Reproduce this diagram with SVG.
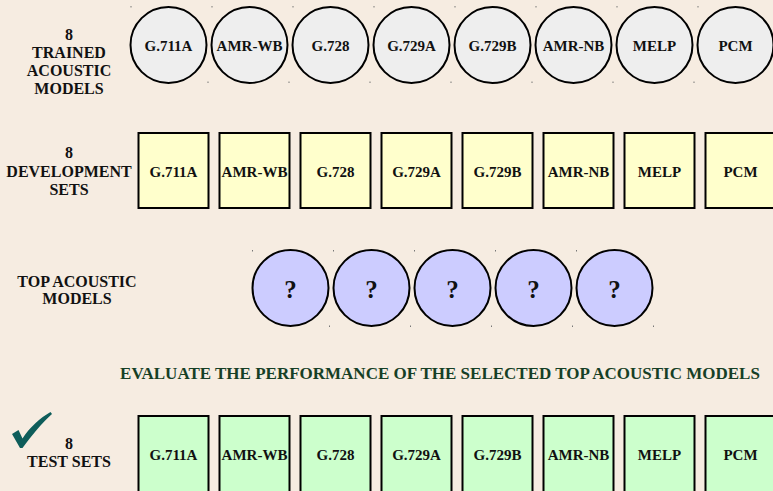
<svg xmlns="http://www.w3.org/2000/svg" width="773" height="491" viewBox="0 0 773 491">
<style>
.bg{fill:#f6ece1}
.lbl{font-family:"Liberation Serif","Times New Roman",serif;font-weight:bold;font-size:15px;fill:#111;text-anchor:middle}
.side{font-size:16px}
.q{font-family:"Liberation Serif","Times New Roman",serif;font-weight:bold;font-size:25px;fill:#111;text-anchor:middle}
.title{font-family:"Liberation Serif","Times New Roman",serif;font-weight:bold;font-size:17px;fill:#163f26;text-anchor:middle}
.model circle{fill:#eeeeee;stroke:#000;stroke-width:2}
.dev rect{fill:#ffffcc;stroke:#000;stroke-width:2}
.top circle{fill:#ccccff;stroke:#000;stroke-width:2}
.test rect{fill:#ccffcc;stroke:#000;stroke-width:2}
.dot{fill:#777}
</style>
<rect class="bg" x="0" y="0" width="773" height="491"/>

<g id="label-trained">
<text class="lbl side" x="69" y="39.5">8</text>
<text class="lbl side" x="69" y="58">TRAINED</text>
<text class="lbl side" x="69" y="76">ACOUSTIC</text>
<text class="lbl side" x="69" y="94">MODELS</text>
</g>
<g id="label-dev">
<text class="lbl side" x="69" y="158">8</text>
<text class="lbl side" x="69" y="177">DEVELOPMENT</text>
<text class="lbl side" x="69" y="195">SETS</text>
</g>
<g id="label-top">
<text class="lbl side" x="77" y="286.5">TOP ACOUSTIC</text>
<text class="lbl side" x="77" y="304">MODELS</text>
</g>
<g id="label-test">
<text class="lbl side" x="69" y="448.5">8</text>
<text class="lbl side" x="69" y="466.5">TEST SETS</text>
</g>
<g id="title">
<text class="title" x="440" y="379">EVALUATE THE PERFORMANCE OF THE SELECTED TOP ACOUSTIC MODELS</text>
</g>
<g id="checkmark">
<path d="M12 434 L18.5 430 L22.5 438.5 C30 427 40 418 50.5 412 L52 414 C42 423 32 435 22.5 448 L20 448 Z" fill="#0e5d5a"/>
</g>

<g id="model-g711a" class="model"><circle cx="168.5" cy="45" r="38"/><text class="lbl" x="168.5" y="51">G.711A</text></g>
<g id="model-amrwb" class="model"><circle cx="249.5" cy="45" r="38"/><text class="lbl" x="249.5" y="51">AMR-WB</text></g>
<g id="model-g728" class="model"><circle cx="330.5" cy="45" r="38"/><text class="lbl" x="330.5" y="51">G.728</text></g>
<g id="model-g729a" class="model"><circle cx="411.5" cy="45" r="38"/><text class="lbl" x="411.5" y="51">G.729A</text></g>
<g id="model-g729b" class="model"><circle cx="492.5" cy="45" r="38"/><text class="lbl" x="492.5" y="51">G.729B</text></g>
<g id="model-amrnb" class="model"><circle cx="573.5" cy="45" r="38"/><text class="lbl" x="573.5" y="51">AMR-NB</text></g>
<g id="model-melp" class="model"><circle cx="654.5" cy="45" r="38"/><text class="lbl" x="654.5" y="51">MELP</text></g>
<g id="model-pcm" class="model"><circle cx="735.5" cy="45" r="38"/><text class="lbl" x="735.5" y="51">PCM</text></g>

<g id="dev-g711a" class="dev"><rect x="138.5" y="133" width="70" height="75"/><text class="lbl" x="173.5" y="176.5">G.711A</text></g>
<g id="dev-amrwb" class="dev"><rect x="219.5" y="133" width="70" height="75"/><text class="lbl" x="254.5" y="176.5">AMR-WB</text></g>
<g id="dev-g728" class="dev"><rect x="300.5" y="133" width="70" height="75"/><text class="lbl" x="335.5" y="176.5">G.728</text></g>
<g id="dev-g729a" class="dev"><rect x="381.5" y="133" width="70" height="75"/><text class="lbl" x="416.5" y="176.5">G.729A</text></g>
<g id="dev-g729b" class="dev"><rect x="462.5" y="133" width="70" height="75"/><text class="lbl" x="497.5" y="176.5">G.729B</text></g>
<g id="dev-amrnb" class="dev"><rect x="543.5" y="133" width="70" height="75"/><text class="lbl" x="578.5" y="176.5">AMR-NB</text></g>
<g id="dev-melp" class="dev"><rect x="624.5" y="133" width="70" height="75"/><text class="lbl" x="659.5" y="176.5">MELP</text></g>
<g id="dev-pcm" class="dev"><rect x="705.5" y="133" width="70" height="75"/><text class="lbl" x="740.5" y="176.5">PCM</text></g>

<g id="top-1" class="top"><circle cx="290.5" cy="288" r="38"/><text class="q" x="290.5" y="298">?</text></g>
<g id="top-2" class="top"><circle cx="371.5" cy="288" r="38"/><text class="q" x="371.5" y="298">?</text></g>
<g id="top-3" class="top"><circle cx="452.5" cy="288" r="38"/><text class="q" x="452.5" y="298">?</text></g>
<g id="top-4" class="top"><circle cx="533.5" cy="288" r="38"/><text class="q" x="533.5" y="298">?</text></g>
<g id="top-5" class="top"><circle cx="614.5" cy="288" r="38"/><text class="q" x="614.5" y="298">?</text></g>

<g id="test-g711a" class="test"><rect x="138.5" y="416" width="70" height="76"/><text class="lbl" x="173.5" y="460">G.711A</text></g>
<g id="test-amrwb" class="test"><rect x="219.5" y="416" width="70" height="76"/><text class="lbl" x="254.5" y="460">AMR-WB</text></g>
<g id="test-g728" class="test"><rect x="300.5" y="416" width="70" height="76"/><text class="lbl" x="335.5" y="460">G.728</text></g>
<g id="test-g729a" class="test"><rect x="381.5" y="416" width="70" height="76"/><text class="lbl" x="416.5" y="460">G.729A</text></g>
<g id="test-g729b" class="test"><rect x="462.5" y="416" width="70" height="76"/><text class="lbl" x="497.5" y="460">G.729B</text></g>
<g id="test-amrnb" class="test"><rect x="543.5" y="416" width="70" height="76"/><text class="lbl" x="578.5" y="460">AMR-NB</text></g>
<g id="test-melp" class="test"><rect x="624.5" y="416" width="70" height="76"/><text class="lbl" x="659.5" y="460">MELP</text></g>
<g id="test-pcm" class="test"><rect x="705.5" y="416" width="70" height="76"/><text class="lbl" x="740.5" y="460">PCM</text></g>

<g id="corner-marks" class="dot">
<rect x="130.5" y="6" width="1" height="1.5"/><rect x="207.5" y="81.5" width="1" height="1.5"/>
<rect x="211.5" y="6" width="1" height="1.5"/><rect x="288.5" y="81.5" width="1" height="1.5"/>
<rect x="292.5" y="6" width="1" height="1.5"/><rect x="369.5" y="81.5" width="1" height="1.5"/>
<rect x="373.5" y="6" width="1" height="1.5"/><rect x="450.5" y="81.5" width="1" height="1.5"/>
<rect x="454.5" y="6" width="1" height="1.5"/><rect x="531.5" y="81.5" width="1" height="1.5"/>
<rect x="535.5" y="6" width="1" height="1.5"/><rect x="612.5" y="81.5" width="1" height="1.5"/>
<rect x="616.5" y="6" width="1" height="1.5"/><rect x="693.5" y="81.5" width="1" height="1.5"/>
<rect x="697.5" y="6" width="1" height="1.5"/>
<rect x="252" y="250" width="1" height="1.5"/><rect x="329" y="325.5" width="1" height="1.5"/>
<rect x="333" y="250" width="1" height="1.5"/><rect x="410" y="325.5" width="1" height="1.5"/>
<rect x="414" y="250" width="1" height="1.5"/><rect x="491" y="325.5" width="1" height="1.5"/>
<rect x="495" y="250" width="1" height="1.5"/><rect x="572" y="325.5" width="1" height="1.5"/>
<rect x="576" y="250" width="1" height="1.5"/><rect x="653" y="325.5" width="1" height="1.5"/>
</g>
</svg>
